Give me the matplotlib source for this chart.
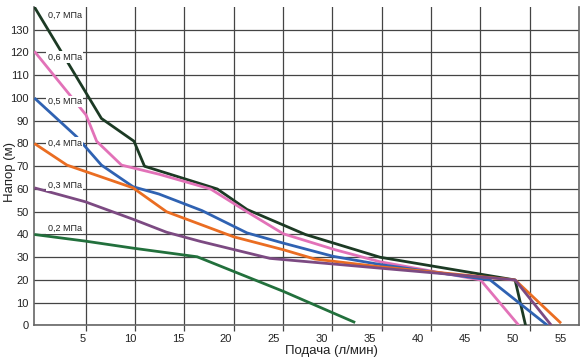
import numpy as np
import matplotlib
matplotlib.use('Agg')
import matplotlib.pyplot as plt

plt.rcParams['font.family'] = ['Liberation Sans', 'DejaVu Sans']

# curves: flow (l/min) -> head (m)
x_07 = [0, 7.0, 10.4, 11.5, 19.1, 22.2, 28.3, 36.1, 50.2, 51.3]
y_07 = [140, 91, 81, 70, 60, 51, 40, 30, 20, 0]
x_06 = [0, 5.4, 6.5, 9.1, 13.0, 18.4, 22.2, 26.0, 31.4, 36.1, 46.6, 50.6]
y_06 = [120.5, 92.5, 81, 70.5, 66.5, 60, 50, 40.3, 33.3, 28, 20, 0]
x_05 = [0, 4.4, 7.0, 10.3, 13.0, 17.5, 22.2, 26.0, 31.2, 36.1, 47.6, 53.6]
y_05 = [100, 83, 70.5, 61, 57.8, 50.5, 40.7, 36.2, 30.4, 26.8, 20, 0]
x_04 = [0, 3.4, 10.3, 13.8, 20.8, 26.0, 29.3, 36.1, 50.2, 55.0]
y_04 = [80, 70.5, 60.5, 50, 39, 33.3, 29.2, 25.8, 20, 1]
x_03 = [0, 5.3, 10.3, 13.8, 17.3, 24.6, 36.1, 50.2, 54.0]
y_03 = [60.5, 54.4, 46.7, 41, 37, 29.5, 25.2, 20, 0]
x_02 = [0, 5.3, 10.3, 17.0, 26.0, 33.5]
y_02 = [40, 37.1, 34, 30.2, 15, 1.3]

labels = ['0,7 МПа', '0,6 МПа', '0,5 МПа', '0,4 МПа', '0,3 МПа', '0,2 МПа']
label_y = [136.5, 118, 98.5, 80.2, 61.8, 42.7]
colors = ['#1c3a24', '#e272b8', '#2f62b2', '#ea6d22', '#7c4a82', '#22703c']

xticks = [5, 10, 15, 20, 25, 30, 35, 40, 45, 50, 55]
yticks = [0, 10, 20, 30, 40, 50, 60, 70, 80, 90, 100, 110, 120, 130]

fig = plt.figure(figsize=(5.85, 3.58), dpi=100)
ax = fig.add_axes([0.0588, 0.0908, 0.931, 0.8897])

curves = [(x_07, y_07), (x_06, y_06), (x_05, y_05),
          (x_04, y_04), (x_03, y_03), (x_02, y_02)]
for (xs, ys), c in zip(curves, colors):
    ax.plot(xs, ys, color=c, lw=2.0, solid_capstyle='butt', zorder=3)

for lab, ly in zip(labels, label_y):
    ax.text(1.4, ly, lab, fontsize=6.5, color='#222222', va='center', ha='left',
            zorder=5, bbox=dict(facecolor='white', edgecolor='none', pad=1))

ax.set_xlim(0, 56.88)
ax.set_ylim(0, 140)

# grid of the original is not aligned with the tick labels
grid_x = 5.36 + 5.152 * np.arange(10)
ax.set_xticks(grid_x, minor=True)
ax.set_xticks(xticks)
ax.set_xticklabels([str(v) for v in xticks])
ax.set_yticks(yticks)
ax.tick_params(axis='x', which='major', length=0, pad=6, labelsize=8, colors='#222222')
ax.tick_params(axis='x', which='minor', length=4, width=0.9, color='#444444', direction='out')
ax.tick_params(axis='y', length=0, pad=4, labelsize=8, colors='#222222')

ax.grid(True, axis='x', which='minor', color='#444444', lw=0.9, zorder=1)
ax.grid(False, axis='x', which='major')
ax.grid(True, axis='y', which='major', color='#444444', lw=0.9, zorder=1)
ax.set_axisbelow(True)

for s in ['left', 'bottom', 'right']:
    ax.spines[s].set_color('#666666')
    ax.spines[s].set_linewidth(1.2)
ax.spines['top'].set_visible(False)

fig.text(331 / 585, 1 - 351 / 358, 'Подача (л/мин)', fontsize=9.5, ha='center', va='center', color='#222222')
fig.text(10 / 585, 1 - 172 / 358, 'Напор (м)', fontsize=9.5, ha='center', va='center', rotation=90, color='#222222')

plt.savefig('out.png', dpi=100)
